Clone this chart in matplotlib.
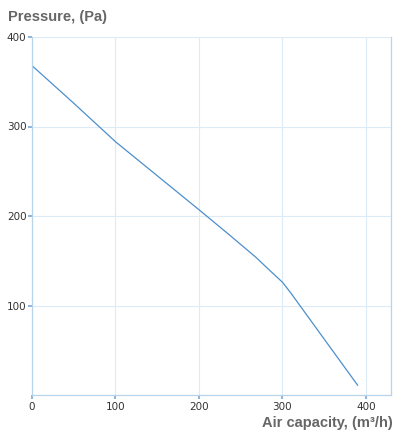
import matplotlib
matplotlib.use("Agg")
import matplotlib.pyplot as plt

# fan curve
airflow = [0, 50, 100, 150, 200, 235, 268, 285, 300, 310, 348, 390]
pressure = [368, 326, 283, 245, 207, 180, 154, 139, 126, 114, 65, 11]

x_ticks = [0, 100, 200, 300, 400]
y_ticks = [100, 200, 300, 400]

grid_col = "#dcebf5"
axis_col = "#b8d4ea"
line_col = "#4d8fcc"
text_col = "#666666"

fig = plt.figure(figsize=(4.01, 4.37), dpi=100)
ax = fig.add_axes([32 / 401, 42 / 437, 359 / 401, 358 / 437])

ax.plot(airflow, pressure, color=line_col, lw=0.9)

ax.set_xlim(0, 430)
ax.set_ylim(0, 400)
ax.set_xticks(x_ticks)
ax.set_yticks(y_ticks)
ax.grid(True, color=grid_col, lw=0.8)
ax.set_axisbelow(True)

ax.spines["top"].set_visible(False)
for side in ["left", "bottom", "right"]:
    ax.spines[side].set_color(axis_col)
    ax.spines[side].set_linewidth(0.9)

ax.tick_params(axis="both", colors="#7aa7d3", length=3, width=1.2,
               labelcolor="#333333", labelsize=7.5)
ax.tick_params(axis="x", pad=2)
ax.tick_params(axis="y", pad=1)

fig.text(8 / 401, 1 - 17 / 437, "Pressure, (Pa)", fontsize=10.5,
         family="Liberation Sans", fontweight="bold", color=text_col,
         ha="left", va="center")
fig.text(393 / 401, 1 - 423 / 437, "Air capacity, (m³/h)", fontsize=10.5,
         family="Liberation Sans", fontweight="bold", color=text_col,
         ha="right", va="center")

fig.savefig("out.png", dpi=100, facecolor="white")
